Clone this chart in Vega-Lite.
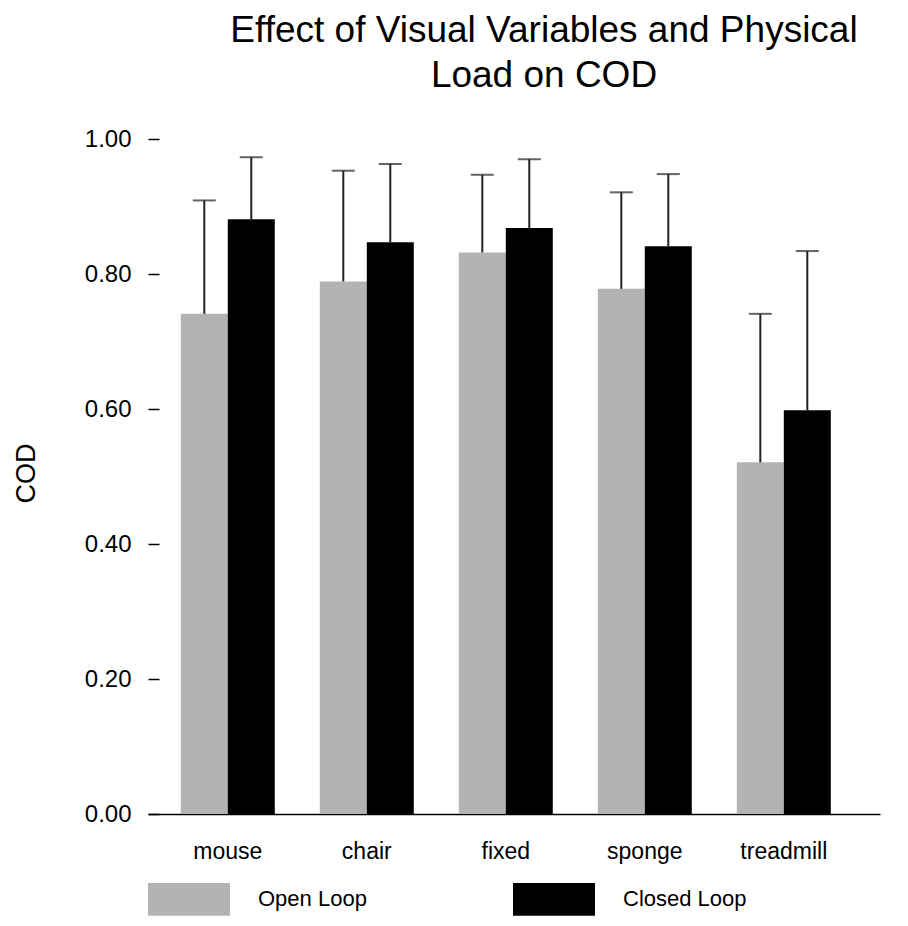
{
  "$schema": "https://vega.github.io/schema/vega-lite/v6.json",
  "autosize": "none",
  "width": 732,
  "height": 675,
  "padding": {"left": 148, "top": 139, "right": 28, "bottom": 112},
  "background": "white",
  "config": {
    "font": "Liberation Sans",
    "view": {"stroke": null}
  },
  "title": {
    "text": ["Effect of Visual Variables and Physical", "Load on COD"],
    "fontSize": 37,
    "fontWeight": "normal",
    "font": "Liberation Sans",
    "color": "black",
    "lineHeight": 45,
    "anchor": "middle",
    "dx": 30,
    "offset": 32
  },
  "data": {
    "values": [
      {"condition": "mouse", "loop": "Open Loop", "value": 0.741, "upper": 0.909},
      {"condition": "mouse", "loop": "Closed Loop", "value": 0.881, "upper": 0.973},
      {"condition": "chair", "loop": "Open Loop", "value": 0.789, "upper": 0.953},
      {"condition": "chair", "loop": "Closed Loop", "value": 0.847, "upper": 0.963},
      {"condition": "fixed", "loop": "Open Loop", "value": 0.832, "upper": 0.947},
      {"condition": "fixed", "loop": "Closed Loop", "value": 0.868, "upper": 0.970},
      {"condition": "sponge", "loop": "Open Loop", "value": 0.778, "upper": 0.921},
      {"condition": "sponge", "loop": "Closed Loop", "value": 0.841, "upper": 0.948},
      {"condition": "treadmill", "loop": "Open Loop", "value": 0.521, "upper": 0.741},
      {"condition": "treadmill", "loop": "Closed Loop", "value": 0.598, "upper": 0.834}
    ]
  },
  "encoding": {
    "x": {
      "field": "condition",
      "type": "nominal",
      "sort": ["mouse", "chair", "fixed", "sponge", "treadmill"],
      "scale": {"paddingInner": 0.324, "paddingOuter": 0.295, "align": 0.4},
      "axis": {
        "title": null,
        "labelAngle": 0,
        "labelFontSize": 23,
        "labelColor": "black",
        "labelPadding": 26,
        "ticks": false,
        "domainColor": "black",
        "domainWidth": 1.5
      }
    },
    "xOffset": {
      "field": "loop",
      "type": "nominal",
      "sort": ["Open Loop", "Closed Loop"],
      "scale": {"paddingInner": 0, "paddingOuter": 0}
    }
  },
  "layer": [
    {
      "mark": {"type": "bar"},
      "encoding": {
        "y": {
          "field": "value",
          "type": "quantitative",
          "scale": {"domain": [0, 1], "nice": false},
          "axis": {
            "title": "COD",
            "titleFontSize": 27,
            "titleFontWeight": "normal",
            "titleColor": "black",
            "titleX": -133,
            "titleY": 334,
            "titleAlign": "center",
            "titleBaseline": "middle",
            "titleAngle": -90,
            "values": [0, 0.2, 0.4, 0.6, 0.8, 1.0],
            "format": ".2f",
            "domain": false,
            "grid": false,
            "offset": -11,
            "tickSize": 11,
            "tickWidth": 1.5,
            "tickColor": "black",
            "labelFontSize": 24,
            "labelColor": "black",
            "labelPadding": 17
          }
        },
        "color": {
          "field": "loop",
          "type": "nominal",
          "sort": ["Open Loop", "Closed Loop"],
          "scale": {"domain": ["Open Loop", "Closed Loop"], "range": ["#b3b3b3", "#000000"]},
          "legend": {
            "title": null,
            "orient": "none",
            "legendX": 0,
            "legendY": 719,
            "direction": "horizontal",
            "symbolType": "M-1,-0.4H1V0.4H-1Z",
            "symbolSize": 6724,
            "symbolStrokeWidth": 0,
            "symbolOpacity": 1,
            "labelFontSize": 22,
            "labelColor": "black",
            "labelOffset": 28,
            "labelLimit": 300,
            "gridAlign": "all",
            "columnPadding": 131
          }
        }
      }
    },
    {
      "mark": {"type": "rule", "color": "#222222", "strokeWidth": 2},
      "encoding": {
        "y": {"field": "value", "type": "quantitative"},
        "y2": {"field": "upper"}
      }
    },
    {
      "mark": {"type": "tick", "color": "#222222", "thickness": 2, "size": 23, "orient": "horizontal"},
      "encoding": {
        "y": {"field": "upper", "type": "quantitative"}
      }
    }
  ]
}
